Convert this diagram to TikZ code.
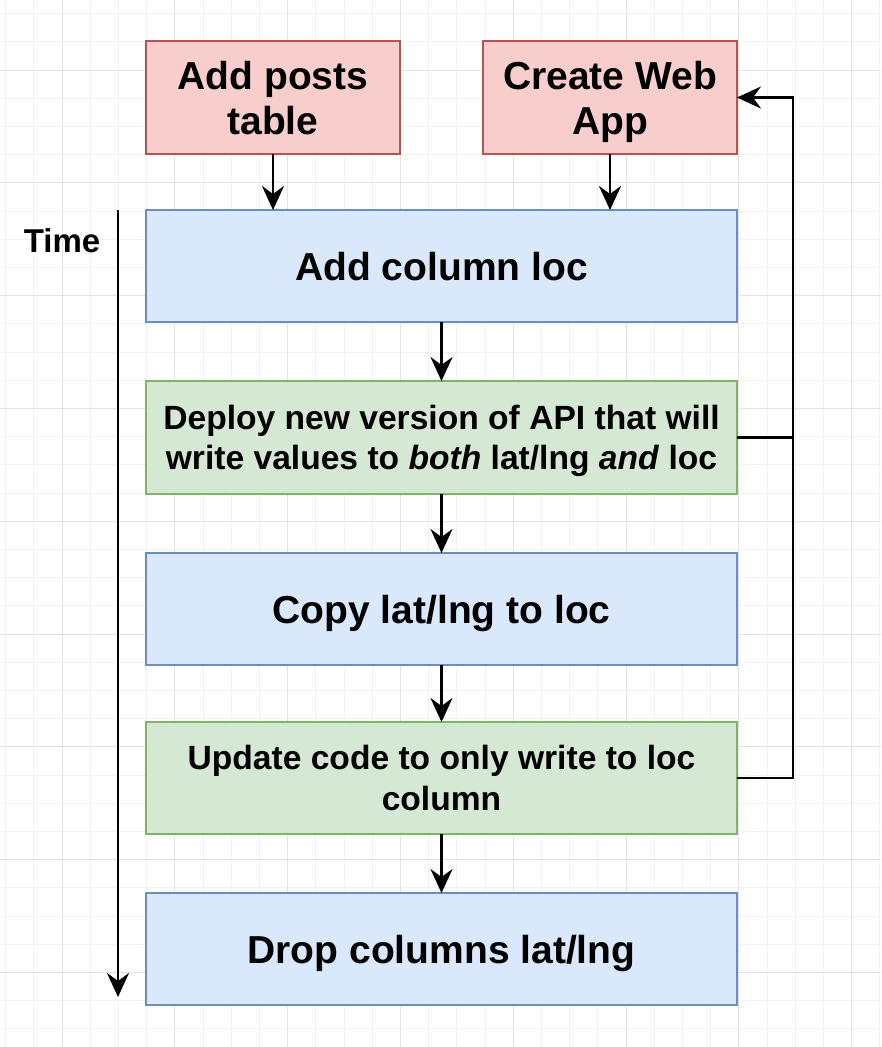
\documentclass[tikz,border=0pt]{standalone}
\usepackage{fontspec}
\setmainfont{Liberation Sans}
\usetikzlibrary{arrows.meta,positioning}

\definecolor{redfill}{HTML}{F8CECC}
\definecolor{redline}{HTML}{B85450}
\definecolor{bluefill}{HTML}{DAE8FC}
\definecolor{blueline}{HTML}{6C8EBF}
\definecolor{greenfill}{HTML}{D5E8D4}
\definecolor{greenline}{HTML}{82B366}
\definecolor{gridminor}{HTML}{F2F2F2}
\definecolor{gridmajor}{HTML}{E3E3E3}

\begin{document}
\begin{tikzpicture}[
    x=1pt, y=-1pt,
    node distance=59pt,
    box/.style={draw, line width=2.2pt, align=center, inner sep=0pt,
        outer sep=0pt, text depth=0pt,
        font=\bfseries\fontsize{39}{45}\selectfont},
    todo/.style={box, fill=redfill, draw=redline,
        minimum width=254pt, minimum height=113pt},
    dbstep/.style={box, fill=bluefill, draw=blueline,
        minimum width=591pt, minimum height=112pt},
    apistep/.style={box, fill=greenfill, draw=greenline,
        minimum width=591pt, minimum height=113pt,
        font=\bfseries\fontsize{33.6}{40.5}\selectfont},
    flow/.style={line width=2.8pt,
        -{Stealth[length=24pt,width=22pt,inset=8pt]}}
]
\useasboundingbox (0,0) rectangle (881,1047);
\fill[white] (0,0) rectangle (881,1047);

% background grid
\foreach \i in {0,...,31} {
    \draw[gridminor, line width=0.8pt] (5.6+28.2*\i,0) -- (5.6+28.2*\i,1047);
}
\foreach \i in {0,...,37} {
    \draw[gridminor, line width=0.8pt] (0,13.6+28.2*\i) -- (881,13.6+28.2*\i);
}
\foreach \i in {0,...,7} {
    \draw[gridmajor, line width=1pt] (62+112.8*\i,0) -- (62+112.8*\i,1047);
}
\foreach \i in {0,...,8} {
    \draw[gridmajor, line width=1pt] (0,70+112.8*\i) -- (881,70+112.8*\i);
}

% first steps
\node[todo] (posts) at (273,97.5) {Add posts\\table};
\node[todo] (webapp) at (610,97.5) {Create Web\\App};

% migration steps
\node[dbstep] (addcol) at (441.5,266) {Add column loc};
\node[apistep, below=of addcol] (deploy)
    {Deploy new version of API that will\\
     write values to \textit{both} lat/lng \textit{and} loc};
\node[dbstep, below=of deploy] (copy) {Copy lat/lng to loc};
\node[apistep, below=57pt of copy, minimum height=112pt] (update)
    {Update code to only write to loc\\column};
\node[dbstep, below=of update] (drop) {Drop columns lat/lng};

% time axis
\coordinate (tstart) at (118,210);
\coordinate (tend) at (118,997);
\node[font=\bfseries\fontsize{33}{40}\selectfont] (time) at (62,241) {Time};
\draw[flow] (tstart) -- (tend);

% arrows
\draw[flow] (posts) -- (posts |- addcol.north);
\draw[flow] (webapp) -- (webapp |- addcol.north);
\draw[flow] (addcol) -- (deploy);
\draw[flow] (deploy) -- (copy);
\draw[flow] (copy) -- (update);
\draw[flow] (update) -- (drop);

% feedback to the web app
\coordinate (bus) at (793,97.5);
\draw[flow] (update.east) -| (bus) -- (webapp.east);
\draw[line width=2.8pt] (deploy.east) -- (deploy.east -| bus);
\end{tikzpicture}
\end{document}
